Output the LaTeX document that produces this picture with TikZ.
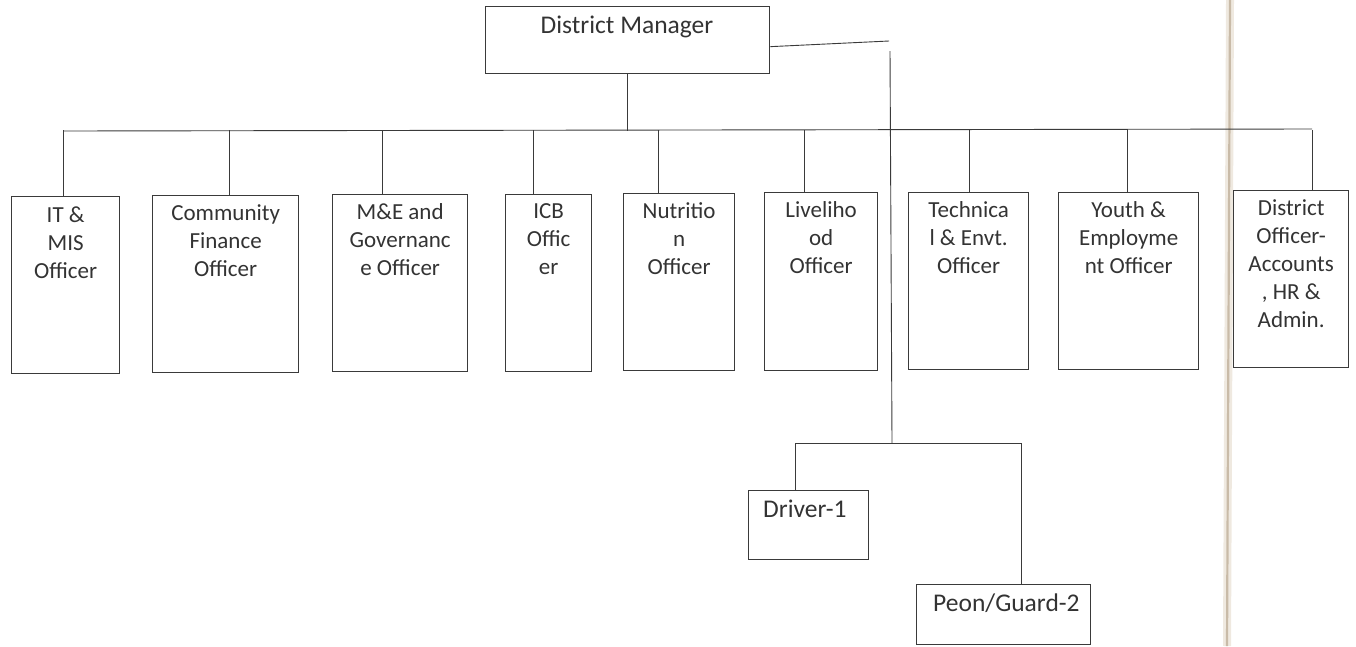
\documentclass[tikz,border=0pt]{standalone}
\usepackage{fontspec}
\setmainfont{Carlito}
\definecolor{linec}{HTML}{3A3A3A}
\definecolor{txtc}{HTML}{333333}
\definecolor{scanc}{HTML}{C9BBA8}
\definecolor{scanl}{HTML}{EFE9E0}
\begin{document}
\begin{tikzpicture}[x=1pt,y=-1pt,
  box/.style={draw=linec, line width=1.3pt, anchor=north west, inner sep=0pt},
  lbl/.style={text=txtc, align=center, anchor=north, inner sep=0pt, font=\fontsize{23}{28}\selectfont},
  big/.style={text=txtc, inner sep=0pt, anchor=base west, font=\fontsize{25.5}{30}\selectfont},
  conn/.style={draw=linec, line width=0.9pt}]
\useasboundingbox (0,0) rectangle (1356,646);
% scan shadow
\draw[scanl, line width=8pt] (1230,0) -- (1227,646);
\draw[scanc, line width=2.2pt] (1230,0) -- (1227,646);
% top
\node[box, minimum width=284pt, minimum height=67pt] (dm) at (485,6) {};
\node[big, anchor=base] (dmt) at (627,33) {District Manager};
% officers
\node[box, minimum width=108pt, minimum height=177pt] (it) at (11,196) {};
\node[box, minimum width=146pt, minimum height=177pt] (cf) at (152,195) {};
\node[box, minimum width=135pt, minimum height=177pt] (me) at (332,194) {};
\node[box, minimum width=86pt, minimum height=177pt] (icb) at (505,194) {};
\node[box, minimum width=111pt, minimum height=177pt] (nut) at (623,193) {};
\node[box, minimum width=113pt, minimum height=178pt] (liv) at (764,192) {};
\node[box, minimum width=120pt, minimum height=177pt] (tech) at (908,192) {};
\node[box, minimum width=140pt, minimum height=177pt] (youth) at (1058,192) {};
\node[box, minimum width=115pt, minimum height=177pt] (dao) at (1233,190) {};
\node[lbl] (itt) at ([yshift=-11pt]it.north) {IT \&\\MIS\\Officer};
\node[lbl] (cft) at ([yshift=-9pt]cf.north) {Community\\Finance\\Officer};
\node[lbl] (met) at ([yshift=-9pt]me.north) {M\&E and\\Governanc\\e Officer};
\node[lbl] (icbt) at ([yshift=-9pt]icb.north) {ICB\\Offic\\er};
\node[lbl] (nutt) at ([yshift=-9pt]nut.north) {Nutritio\\n\\Officer};
\node[lbl] (livt) at ([yshift=-9pt]liv.north) {Liveliho\\od\\Officer};
\node[lbl] (techt) at ([yshift=-9pt]tech.north) {Technica\\l \& Envt.\\Officer};
\node[lbl] (youtht) at ([yshift=-9pt]youth.north) {Youth \&\\Employme\\nt Officer};
\node[lbl] (daot) at ([yshift=-9pt]dao.north) {District\\Officer-\\Accounts\\, HR \&\\Admin.};
% bottom staff
\node[box, minimum width=120pt, minimum height=69pt] (drv) at (748,490) {};
\node[big] (drvt) at (763,517) {Driver-1};
\node[box, minimum width=174pt, minimum height=60pt] (peon) at (916,584) {};
\node[big] (peont) at (933,611) {Peon/Guard-2};
% connectors
\coordinate (busl) at (63,131);
\coordinate (busr) at (1312,129);
\draw[conn] (dm.south) -- (dm.south |- busl);
\draw[conn] (busl) -- (busr);
\foreach \n/\cx in {it/63,cf/229,me/382,icb/533,nut/658,liv/804,tech/969,youth/1127,dao/1312}{
  \coordinate (c\n) at (\cx,130);
  \draw[conn] (c\n) -- (c\n |- \n.north);
}
\coordinate (dmr) at (889,41);
\draw[conn] ([yshift=-6.5pt]dm.east) -- (dmr);
\coordinate (vtop) at (890,51);
\coordinate (vbot) at (892,443);
\draw[conn] (vtop) -- (vbot);
\coordinate (lb) at (795,443);
\coordinate (rb) at (1021,443);
\draw[conn] (lb) -- (rb);
\draw[conn] (lb) -- (lb |- drv.north);
\draw[conn] (rb) -- (rb |- peon.north);
\end{tikzpicture}
\end{document}
